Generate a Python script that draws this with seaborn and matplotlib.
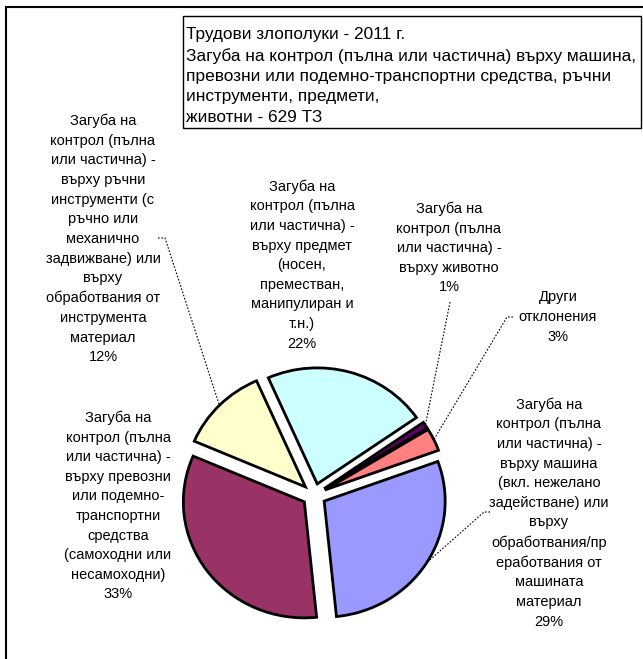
import numpy as np
import matplotlib
matplotlib.use("Agg")
import matplotlib.pyplot as plt
import seaborn as sns
from matplotlib.patches import Rectangle

sns.set_theme(style="white")
plt.rcParams['font.family'] = ['Liberation Sans', 'DejaVu Sans']

# data (629 accidents in total)
categories = [
    "Загуба на\nконтрол (пълна\nили частична) -\nвърху машина\n(вкл. нежелано\nзадействане) или\nвърху\nобработвания/пр\nеработвания от\nмашината\nматериал",
    "Загуба на\nконтрол (пълна\nили частична) -\nвърху превозни\nили подемно-\nтранспортни\nсредства\n(самоходни или\nнесамоходни)",
    "Загуба на\nконтрол (пълна\nили частична) -\nвърху ръчни\nинструменти (с\nръчно или\nмеханично\nзадвижване) или\nвърху\nобработвания от\nинструмента\nматериал",
    "Загуба на\nконтрол (пълна\nили частична) -\nвърху предмет\n(носен,\nпреместван,\nманипулиран и\nт.н.)",
    "Загуба на\nконтрол (пълна\nили частична) -\nвърху животно",
    "Други\nотклонения",
]
counts = [182, 208, 75, 138, 6, 20]
colors = ["#9999FF", "#993366", "#FFFFCC", "#CCFFFF", "#660066", "#FF8080"]

title = ("Трудови злополуки - 2011 г.\n"
         "Загуба на контрол (пълна или частична) върху машина,\n"
         "превозни или подемно-транспортни средства, ръчни\n"
         "инструменти, предмети,\n"
         "животни - 629 ТЗ")

W, H = 643, 659
SY = 0.959  # the pie in the original is slightly squashed vertically
fig = plt.figure(figsize=(W / 100, H / 100), dpi=100)
ax = fig.add_axes([0, 0, 1, 1])


def px(x, y):
    # pixel position measured from the top-left corner -> data coords
    return x, (H - y) / SY


# explode is in data units here
wedges, _ = ax.pie(counts, colors=colors, explode=[12] * len(counts),
                   startangle=20, counterclock=False, radius=121,
                   center=px(314, 495),
                   wedgeprops=dict(edgecolor="black", linewidth=2))
ax.set_xlim(0, W)
ax.set_ylim(0, H / SY)
ax.set_aspect("auto")
ax.axis("off")

total = sum(counts)
pcts = [round(c / total * 100) for c in counts]

# label centres and leader line starts (pixels from top-left)
label_pos = [(549, 513), (118, 506), (103, 239), (302, 265), (449, 248), (558, 317)]
leaders = {0: [(490, 512), (484, 512)], 2: [(158, 238), (165, 238)],
           4: [(450, 302)], 5: [(513, 317), (507, 317)]}

for i, (w, cat, p) in enumerate(zip(wedges, categories, pcts)):
    ax.text(*px(*label_pos[i]), f"{cat}\n{p}%", ha="center", va="center",
            fontsize=10.5, linespacing=1.51, color="black")
    if i in leaders:
        mid = np.deg2rad((w.theta1 + w.theta2) / 2)
        cx, cy = w.center
        ex, ey = cx + w.r * np.cos(mid), cy + w.r * np.sin(mid)
        pts = [px(*q) for q in leaders[i]] + [(ex, ey)]
        ax.plot([q[0] for q in pts], [q[1] for q in pts], color="black",
                lw=0.8, linestyle=(0, (1.5, 1.5)))

# title box
x0, y0 = px(183, 128)
x1, y1 = px(641, 16)
ax.add_patch(Rectangle((x0, y0), x1 - x0, y1 - y0, fill=False,
                       edgecolor="black", lw=1))
ax.text(*px(186, 27), title, ha="left", va="top", fontsize=12.4,
        linespacing=1.45, color="black")

# chart area border (only left and top visible)
bx0, by0 = px(5.5, H + 20)
bx1, by1 = px(W + 40, 7)
ax.add_patch(Rectangle((bx0, by0), bx1 - bx0, by1 - by0, fill=False,
                       edgecolor="black", lw=1.5, clip_on=False))

fig.savefig("out.png", dpi=100)
